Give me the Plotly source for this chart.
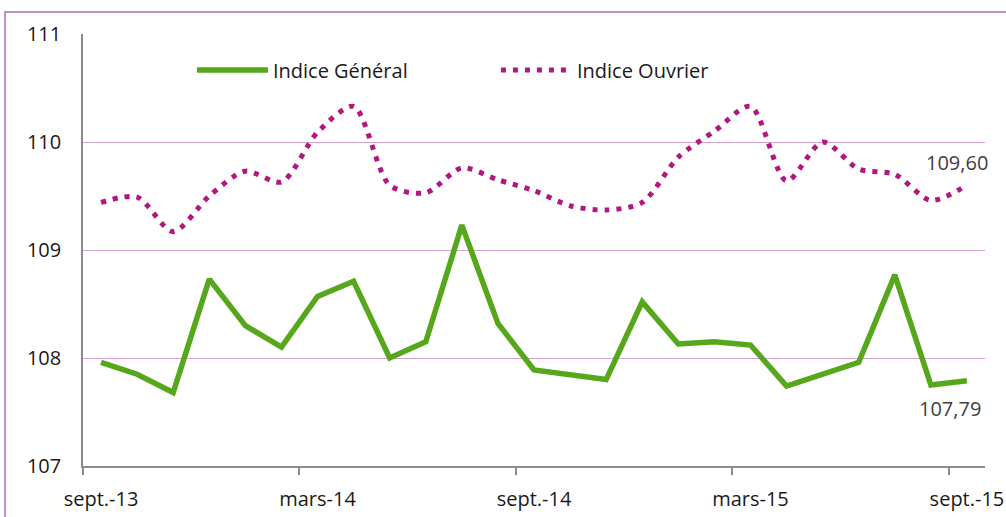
import plotly.graph_objects as go

months = ["sept.-13", "oct.-13", "nov.-13", "déc.-13", "janv.-14", "févr.-14",
          "mars-14", "avr.-14", "mai-14", "juin-14", "juil.-14", "août-14",
          "sept.-14", "oct.-14", "nov.-14", "déc.-14", "janv.-15", "févr.-15",
          "mars-15", "avr.-15", "mai-15", "juin-15", "juil.-15", "août-15",
          "sept.-15"]

indice_general = [107.96, 107.85, 107.68, 108.73, 108.30, 108.10, 108.57, 108.71,
                  108.00, 108.15, 109.23, 108.32, 107.89, 107.84, 107.80, 108.52,
                  108.13, 108.15, 108.12, 107.74, 107.85, 107.96, 108.77, 107.75,
                  107.79]

indice_ouvrier = [109.44, 109.49, 109.17, 109.50, 109.73, 109.63, 110.09, 110.33,
                  109.60, 109.53, 109.76, 109.65, 109.55, 109.41, 109.37, 109.44,
                  109.86, 110.10, 110.33, 109.64, 110.00, 109.75, 109.70, 109.46,
                  109.60]

label_every = 6
y_ticks = [107, 108, 109, 110, 111]

x_idx = list(range(len(months)))
tick_idx = x_idx[::label_every]
tick_txt = [months[i] for i in tick_idx]
boundary_ticks = [i - 0.5 for i in tick_idx]

GREEN = "#57A71D"
PURPLE = "#B2177F"
FONT = "Open Sans"

# plot area in page pixels (body margin removed via post_script)
L, T, R, B = 83, 34, 985.5, 466
W, H = 1006, 517
PW, PH = R - L, B - T

fig = go.Figure()
fig.add_trace(go.Scatter(
    x=x_idx, y=indice_general, name="Indice Général", mode="lines",
    line=dict(color=GREEN, width=5.5),
))
fig.add_trace(go.Scatter(
    x=x_idx, y=indice_ouvrier, name="Indice Ouvrier", mode="lines",
    line=dict(color=PURPLE, width=5, dash="5px,7px", shape="spline", smoothing=0.8),
))

def fmt(v):
    return f"{v:.2f}".replace(".", ",")

fig.add_annotation(x=x_idx[-1], y=indice_ouvrier[-1], text=fmt(indice_ouvrier[-1]),
                   showarrow=False, xshift=-10, yshift=23,
                   font=dict(family=FONT, size=20, color="#404040"))
fig.add_annotation(x=x_idx[-1], y=indice_general[-1], text=fmt(indice_general[-1]),
                   showarrow=False, xshift=-17, yshift=-28,
                   font=dict(family=FONT, size=20, color="#404040"))

def px_x(p):
    return (p - L) / PW

def px_y(p):
    return (B - p) / PH

# outer chart frame
fig.add_shape(type="rect", xref="paper", yref="paper",
              x0=px_x(5), x1=px_x(1020), y0=px_y(530), y1=px_y(12),
              line=dict(color="#C48EC4", width=2), fillcolor="rgba(0,0,0,0)",
              layer="below")

fig.update_layout(
    width=W, height=H,
    margin=dict(l=L, r=W - R, t=T, b=H - B, autoexpand=False),
    paper_bgcolor="white", plot_bgcolor="white",
    font=dict(family=FONT, size=20, color="#1a1a1a"),
    showlegend=True,
    legend=dict(orientation="h", x=px_x(192), xanchor="left",
                y=px_y(70), yanchor="middle",
                itemwidth=71, entrywidth=218, bgcolor="rgba(0,0,0,0)",
                font=dict(family=FONT, size=20, color="#1a1a1a")),
    xaxis=dict(
        automargin=False,
        range=[-0.5, len(months) - 0.5],
        tickmode="array", tickvals=tick_idx, ticktext=tick_txt,
        ticks="", ticklabelstandoff=14,
        showgrid=False, zeroline=False,
        showline=True, linecolor="#8C8C8C", linewidth=1.5,
        minor=dict(tickmode="array", tickvals=boundary_ticks, ticks="outside",
                   ticklen=7, tickcolor="#8C8C8C", tickwidth=1.5, showgrid=False),
        tickfont=dict(family=FONT, size=20, color="#1a1a1a"),
    ),
    yaxis=dict(
        automargin=False,
        range=[107, 111], tickmode="array", tickvals=y_ticks,
        ticks="", ticklabelstandoff=16,
        showgrid=True, gridcolor="#D4A2D4", gridwidth=1.2,
        zeroline=False, showline=True, linecolor="#8C8C8C", linewidth=1.5,
        tickfont=dict(family=FONT, size=20, color="#1a1a1a"),
    ),
)

fig.write_html("out.html",
               config={"displayModeBar": False},
               post_script="document.body.style.margin='0';"
                           "document.body.style.overflow='hidden';")
